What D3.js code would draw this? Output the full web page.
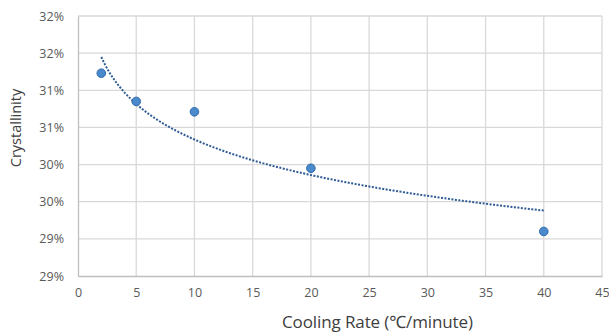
<!DOCTYPE html>
<html>
<head>
<meta charset="utf-8">
<script src="https://cdn.jsdelivr.net/npm/d3@7"></script>
<style>
  body { margin: 0; background: #fff; }
  text { font-family: "Open Sans", "Noto Sans", sans-serif; }
</style>
</head>
<body>
<div id="chart"></div>
<script>
// cooling rate (°C/min) vs crystallinity (%)
var coolingRate = [2, 5, 10, 20, 40];
var crystallinity = [31.23, 30.85, 30.71, 29.95, 29.10];
var xTicks = [0, 5, 10, 15, 20, 25, 30, 35, 40, 45];
var yTicks = [28.5, 29, 29.5, 30, 30.5, 31, 31.5, 32];
var yTickLabels = ["29%", "29%", "30%", "30%", "31%", "31%", "32%", "32%"];

var width = 609, height = 334;
var margin = {top: 16, right: 7, bottom: 58, left: 78};

var svg = d3.select("#chart").append("svg")
    .attr("width", width)
    .attr("height", height);

var x = d3.scaleLinear().domain([0, 45]).range([margin.left, width - margin.right]);
var y = d3.scaleLinear().domain([28.5, 32]).range([height - margin.bottom, margin.top]);

// grid
svg.append("g")
    .selectAll("line.v")
    .data(xTicks.slice(1))
  .enter().append("line")
    .attr("x1", function(d) { return x(d); })
    .attr("x2", function(d) { return x(d); })
    .attr("y1", y(32))
    .attr("y2", y(28.5))
    .style("stroke", "#d9d9d9")
    .style("stroke-width", 1.3);

svg.append("g")
    .selectAll("line.h")
    .data(yTicks.slice(1))
  .enter().append("line")
    .attr("x1", x(0))
    .attr("x2", x(45))
    .attr("y1", function(d) { return y(d); })
    .attr("y2", function(d) { return y(d); })
    .style("stroke", "#d9d9d9")
    .style("stroke-width", 1.3);

// axes
var xAxis = d3.axisBottom(x).tickValues(xTicks).tickSize(0).tickPadding(12);
var gx = svg.append("g")
    .attr("transform", "translate(0," + y(28.5) + ")")
    .call(xAxis);
gx.select(".domain").style("stroke", "#bfbfbf").style("stroke-width", 1.3);
gx.selectAll("text").style("font-size", "12.5px").style("fill", "#595959");

var yAxis = d3.axisLeft(y).tickValues(yTicks).tickSize(0).tickPadding(14)
    .tickFormat(function(d, i) { return yTickLabels[i]; });
var gy = svg.append("g")
    .attr("transform", "translate(" + x(0) + ",0)")
    .call(yAxis);
gy.select(".domain").style("stroke", "#bfbfbf").style("stroke-width", 1.3);
gy.selectAll("text").style("font-size", "12.5px").style("fill", "#595959");

// logarithmic trendline, least squares on ln(x)
var lx = coolingRate.map(function(d) { return Math.log(d); });
var mx = d3.mean(lx), my = d3.mean(crystallinity);
var sxy = d3.sum(lx, function(d, i) { return (d - mx) * (crystallinity[i] - my); });
var sxx = d3.sum(lx, function(d) { return (d - mx) * (d - mx); });
var b = sxy / sxx, a = my - b * mx;

var trendX = d3.range(2, 40.01, 0.25);
var line = d3.line()
    .x(function(d) { return x(d); })
    .y(function(d) { return y(a + b * Math.log(d)); });

svg.append("path")
    .datum(trendX)
    .attr("d", line)
    .style("fill", "none")
    .style("stroke", "#2f5c95")
    .style("stroke-width", 2)
    .style("stroke-dasharray", "2,1.5");

// points
svg.append("g")
    .selectAll("circle")
    .data(coolingRate)
  .enter().append("circle")
    .attr("cx", function(d) { return x(d); })
    .attr("cy", function(d, i) { return y(crystallinity[i]); })
    .attr("r", 4.3)
    .style("fill", "#4a89cc")
    .style("stroke", "#2f6aab")
    .style("stroke-width", 1);

// axis titles
svg.append("text")
    .attr("x", 282)
    .attr("y", 328)
    .attr("text-anchor", "start")
    .attr("textLength", 191)
    .style("font-size", "17px")
    .style("fill", "#404040")
    .text("Cooling Rate (℃/minute)");

svg.append("text")
    .attr("transform", "translate(21,128) rotate(-90)")
    .attr("text-anchor", "middle")
    .style("font-size", "14.5px")
    .style("fill", "#404040")
    .text("Crystallinity");
</script>
</body>
</html>
